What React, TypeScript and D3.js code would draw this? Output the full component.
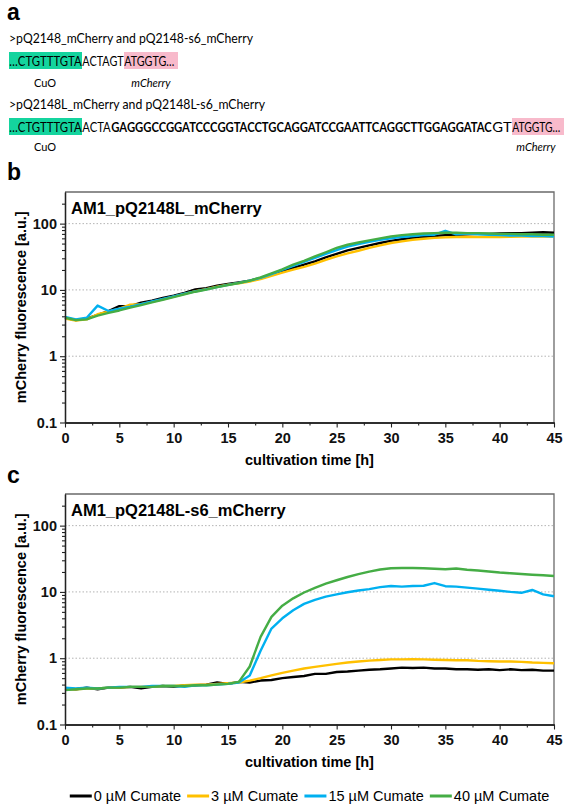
import React, { useEffect, useRef } from "react";
import * as d3 from "d3";

// --- data ---
const TIME = [0, 1, 2, 3, 4, 5, 6, 7, 8, 9, 10, 11, 12, 13, 14, 15, 16, 17, 18, 19, 20, 21, 22,
  23, 24, 25, 26, 27, 28, 29, 30, 31, 32, 33, 34, 35, 36, 37, 38, 39, 40, 41, 42, 43, 44, 45];

const SERIES_LABELS = ["0 µM Cumate", "3 µM Cumate", "15 µM Cumate", "40 µM Cumate"];

// panel b: AM1_pQ2148L_mCherry
const B_0 = [3.8, 3.5, 3.7, 4.2, 4.8, 5.7, 5.7, 6.4, 6.9, 7.6, 8.2, 9.0, 10.2, 10.6, 11.6, 12.3,
  13.0, 13.8, 15.0, 16.8, 19.0, 21.5, 24.0, 27.0, 31.0, 35.0, 39.5, 43.0, 47.0, 51.0, 55.0, 58.0,
  61.0, 63.0, 65.0, 67.0, 68.0, 69.0, 70.0, 70.0, 71.0, 72.0, 72.0, 73.0, 74.0, 73.0];
const B_3 = [3.7, 3.45, 3.6, 4.3, 4.7, 5.2, 6.0, 6.1, 6.6, 7.2, 7.9, 8.7, 9.6, 10.3, 11.2, 12.0,
  12.6, 13.4, 14.6, 16.3, 18.2, 20.2, 22.2, 25.0, 28.5, 32.0, 35.5, 39.0, 43.0, 47.0, 51.0, 54.0,
  57.0, 59.0, 61.0, 62.0, 63.0, 63.0, 63.0, 63.0, 63.0, 63.5, 64.0, 64.0, 64.0, 64.0];
const B_15 = [3.9, 3.6, 3.8, 5.8, 4.8, 5.2, 5.6, 6.1, 6.7, 7.3, 8.0, 8.8, 9.5, 10.2, 11.0, 11.9,
  12.8, 13.8, 15.2, 17.3, 20.0, 23.0, 26.5, 30.5, 35.0, 40.0, 45.0, 49.0, 53.0, 57.0, 60.0, 63.0,
  65.0, 67.0, 68.0, 78.0, 69.0, 71.0, 69.0, 68.0, 67.0, 66.0, 66.0, 65.0, 65.0, 64.0];
const B_40 = [3.8, 3.5, 3.6, 4.1, 4.5, 4.9, 5.4, 5.9, 6.5, 7.1, 7.8, 8.6, 9.4, 10.1, 11.0, 11.8,
  12.7, 13.8, 15.5, 17.8, 20.5, 24.0, 27.5, 32.0, 37.0, 43.0, 48.0, 52.0, 56.0, 60.0, 64.0, 67.0,
  69.0, 71.0, 72.0, 73.0, 73.0, 72.0, 72.0, 71.0, 70.0, 70.0, 69.0, 69.0, 68.0, 68.0];

// panel c: AM1_pQ2148L-s6_mCherry
const C_0 = [0.35, 0.34, 0.36, 0.34, 0.36, 0.36, 0.37, 0.35, 0.37, 0.38, 0.37, 0.39, 0.39, 0.40,
  0.43, 0.41, 0.44, 0.43, 0.46, 0.47, 0.50, 0.52, 0.54, 0.58, 0.58, 0.62, 0.63, 0.65, 0.67, 0.68,
  0.70, 0.72, 0.71, 0.72, 0.70, 0.70, 0.68, 0.68, 0.67, 0.68, 0.66, 0.68, 0.66, 0.67, 0.65, 0.65];
const C_3 = [0.34, 0.34, 0.35, 0.35, 0.36, 0.36, 0.37, 0.37, 0.37, 0.38, 0.38, 0.39, 0.40, 0.40,
  0.41, 0.42, 0.43, 0.46, 0.50, 0.55, 0.60, 0.65, 0.70, 0.74, 0.78, 0.82, 0.86, 0.89, 0.92, 0.94,
  0.96, 0.96, 0.97, 0.96, 0.95, 0.94, 0.93, 0.93, 0.91, 0.90, 0.89, 0.89, 0.88, 0.86, 0.85, 0.84];
const C_15 = [0.36, 0.35, 0.36, 0.35, 0.36, 0.37, 0.37, 0.37, 0.38, 0.38, 0.38, 0.37, 0.39, 0.39,
  0.40, 0.41, 0.43, 0.55, 1.3, 2.8, 4.0, 5.3, 6.6, 7.6, 8.5, 9.2, 9.9, 10.5, 11.0, 11.8, 12.3, 12.0,
  12.3, 12.4, 13.6, 12.2, 12.0, 11.6, 11.2, 10.8, 10.4, 10.0, 9.7, 10.7, 9.2, 8.6];
const C_40 = [0.33, 0.34, 0.35, 0.35, 0.36, 0.36, 0.37, 0.37, 0.37, 0.38, 0.38, 0.38, 0.39, 0.39,
  0.40, 0.41, 0.44, 0.75, 2.1, 4.2, 6.2, 8.0, 9.8, 11.5, 13.3, 15.0, 16.8, 18.5, 20.2, 21.8, 22.8,
  23.0, 23.0, 22.7, 22.4, 22.0, 22.6, 21.6, 21.0, 20.3, 19.6, 19.1, 18.6, 18.2, 17.8, 17.4];

const X_TICKS = [0, 5, 10, 15, 20, 25, 30, 35, 40, 45];
const X_MINOR = [2.5, 7.5, 12.5, 17.5, 22.5, 27.5, 32.5, 37.5, 42.5];
const Y_TICKS = [0.1, 1, 10, 100];
const Y_TICK_LABELS = ["0.1", "1", "10", "100"];
const Y_MINOR = [0.2, 0.3, 0.4, 0.5, 0.6, 0.7, 0.8, 0.9, 2, 3, 4, 5, 6, 7, 8, 9,
  20, 30, 40, 50, 60, 70, 80, 90, 200];
const GRID_VALUES = [1, 10, 100];

// panel a texts
const SEQ_HEADERS = [">pQ2148_mCherry and pQ2148-s6_mCherry", ">pQ2148L_mCherry and pQ2148L-s6_mCherry"];
const SEQ1 = ["…CTGTTTGTA", "ACTAGT", "ATGGTG…"];
const SEQ2 = ["…CTGTTTGTA", "ACTA", "GAGGGCCGGATCCCGGTACCTGCAGGATCCGAATTCAGGCTTGGAGGATAC", "GT", "ATGGTG…"];

const COLORS = ["#000000", "#FFC000", "#00B0F0", "#45AD45"];
const ARIAL = "'Liberation Sans', Arial, sans-serif";
const CALIBRI = "Lato, 'Open Sans', sans-serif";
const GREEN_BOX = "#14D49E";
const PINK_BOX = "#F8BACB";

function drawPanel(svg: any, top: number, title: string, series: number[][]) {
  const left = 65, right = 554, bottom = top + 230.5;
  const x = d3.scaleLinear().domain([0, 45]).range([left, right]);
  const y = d3.scaleLog().domain([0.1, 300]).range([bottom, top]);
  const g = svg.append("g");

  // dotted grid
  g.selectAll(".grid").data(GRID_VALUES).join("line")
    .attr("x1", left).attr("x2", right)
    .attr("y1", (d: number) => y(d)).attr("y2", (d: number) => y(d))
    .attr("stroke", "#b4b4b4").attr("stroke-width", 1).attr("stroke-dasharray", "1.5,2");

  // top/right frame
  g.append("path").attr("d", `M${left},${top}H${right}V${bottom}`)
    .attr("fill", "none").attr("stroke", "#6a6a6a").attr("stroke-width", 1.3);

  // series
  const line = d3.line<number>().x((_, i) => x(TIME[i])).y(d => y(d));
  series.forEach((s, i) => {
    g.append("path").datum(s).attr("d", line)
      .attr("fill", "none").attr("stroke", COLORS[i]).attr("stroke-width", 2.4)
      .attr("stroke-linejoin", "round");
  });

  // axes
  const styleAxis = (a: any) => {
    a.select(".domain").attr("stroke", "#222").attr("stroke-width", 1.3);
    a.selectAll(".tick line").attr("stroke", "#222").attr("stroke-width", 1.1);
    a.selectAll("text").attr("font-family", ARIAL).attr("font-weight", "bold")
      .attr("font-size", 14.5).attr("fill", "#111");
  };
  g.append("g").attr("transform", `translate(${left},0)`)
    .call(d3.axisLeft(y).tickValues(Y_MINOR).tickFormat(() => "").tickSize(3).tickSizeOuter(0))
    .call(styleAxis);
  g.append("g").attr("transform", `translate(${left},0)`)
    .call(d3.axisLeft(y).tickValues(Y_TICKS).tickFormat((_: any, i: number) => Y_TICK_LABELS[i])
      .tickSize(5).tickPadding(3).tickSizeOuter(0))
    .call(styleAxis);
  g.append("g").attr("transform", `translate(0,${bottom})`)
    .call(d3.axisBottom(x).tickValues(X_MINOR).tickFormat(() => "").tickSize(3).tickSizeOuter(0))
    .call(styleAxis);
  g.append("g").attr("transform", `translate(0,${bottom})`)
    .call(d3.axisBottom(x).tickValues(X_TICKS).tickFormat(d3.format("d")).tickSize(5).tickPadding(5).tickSizeOuter(0))
    .call(styleAxis);

  // labels
  g.append("text").attr("x", left + 6).attr("y", top + 21.5)
    .attr("font-family", ARIAL).attr("font-weight", "bold").attr("font-size", 16.5)
    .text(title);
  g.append("text").attr("transform", `translate(26,${(top + bottom) / 2}) rotate(-90)`)
    .attr("text-anchor", "middle")
    .attr("font-family", ARIAL).attr("font-weight", "bold").attr("font-size", 14.5)
    .text("mCherry fluorescence [a.u.]");
  g.append("text").attr("x", (left + right) / 2).attr("y", bottom + 42.5)
    .attr("text-anchor", "middle")
    .attr("font-family", ARIAL).attr("font-weight", "bold").attr("font-size", 14.5)
    .text("cultivation time [h]");
}

function drawSequence(svg: any, segs: string[], xs: number[], boxTop: number, bold: number) {
  // xs: segment boundaries, first seg is CuO (green), last is mCherry (pink)
  const g = svg.append("g");
  const n = segs.length;
  g.append("rect").attr("x", xs[0]).attr("y", boxTop).attr("width", xs[1] - xs[0]).attr("height", 17)
    .attr("fill", GREEN_BOX);
  g.append("rect").attr("x", xs[n - 1]).attr("y", boxTop).attr("width", xs[n] - xs[n - 1]).attr("height", 17)
    .attr("fill", PINK_BOX);
  const t = g.append("text").attr("y", boxTop + 13.5)
    .attr("font-family", CALIBRI).attr("font-size", 13.5);
  segs.forEach((s, i) => {
    t.append("tspan").attr("x", xs[i] + 0.3)
      .attr("font-weight", i === bold ? "bold" : "normal")
      .attr("textLength", xs[i + 1] - xs[i] - (i === n - 1 ? 4 : 0.6))
      .attr("lengthAdjust", "spacingAndGlyphs")
      .text(s);
  });
}

export default function App() {
  const svgRef = useRef<SVGSVGElement>(null);

  useEffect(() => {
    const svg = d3.select(svgRef.current);
    svg.selectAll("*").remove();

    // --- panel letters ---
    const letters: [string, number][] = [["a", 20], ["b", 180], ["c", 483]];
    letters.forEach(([t, yy]) => {
      svg.append("text").attr("x", 7).attr("y", yy)
        .attr("font-family", ARIAL).attr("font-weight", "bold").attr("font-size", 23).text(t);
    });

    // --- panel a ---
    const headerY = [43, 109];
    const headerW = [244, 256];
    SEQ_HEADERS.forEach((h, i) => {
      svg.append("text").attr("x", 9).attr("y", headerY[i])
        .attr("font-family", CALIBRI).attr("font-size", 13.5)
        .attr("textLength", headerW[i]).attr("lengthAdjust", "spacingAndGlyphs").text(h);
    });
    drawSequence(svg, SEQ1, [9, 82, 124, 178], 52, -1);
    drawSequence(svg, SEQ2, [9, 82, 111, 492, 512, 564], 118, 2);
    const notes: [string, number, number, boolean][] = [
      ["CuO", 45, 87, false], ["mCherry", 151, 87, true],
      ["CuO", 45, 151, false], ["mCherry", 536, 151, true],
    ];
    notes.forEach(([t, xx, yy, it]) => {
      svg.append("text").attr("x", xx).attr("y", yy).attr("text-anchor", "middle")
        .attr("font-family", CALIBRI).attr("font-size", 11)
        .attr("font-style", it ? "italic" : "normal").text(t);
    });

    // --- panels b and c ---
    drawPanel(svg, 192, "AM1_pQ2148L_mCherry", [B_0, B_3, B_15, B_40]);
    drawPanel(svg, 494, "AM1_pQ2148L-s6_mCherry", [C_0, C_3, C_15, C_40]);

    // --- legend ---
    const legend = svg.append("g");
    const items = SERIES_LABELS.map((lab, i) => {
      const t = legend.append("text").attr("y", 801)
        .attr("font-family", ARIAL).attr("font-size", 14.5).text(lab);
      const w = (t.node() as SVGTextElement).getComputedTextLength();
      return { t, w, i };
    });
    const lineLen = 22, gapIn = 2, gapOut = 6;
    const total = d3.sum(items, d => d.w) + items.length * (lineLen + gapIn) + (items.length - 1) * gapOut;
    let cx = 309.5 - total / 2;
    items.forEach(({ t, w, i }) => {
      legend.append("line").attr("x1", cx).attr("x2", cx + lineLen).attr("y1", 796).attr("y2", 796)
        .attr("stroke", COLORS[i]).attr("stroke-width", 3);
      t.attr("x", cx + lineLen + gapIn);
      cx += lineLen + gapIn + w + gapOut;
    });
  }, []);

  return (
    <svg ref={svgRef} width={564} height={805}
      style={{ position: "absolute", left: 0, top: 0, background: "#fff" }} />
  );
}
